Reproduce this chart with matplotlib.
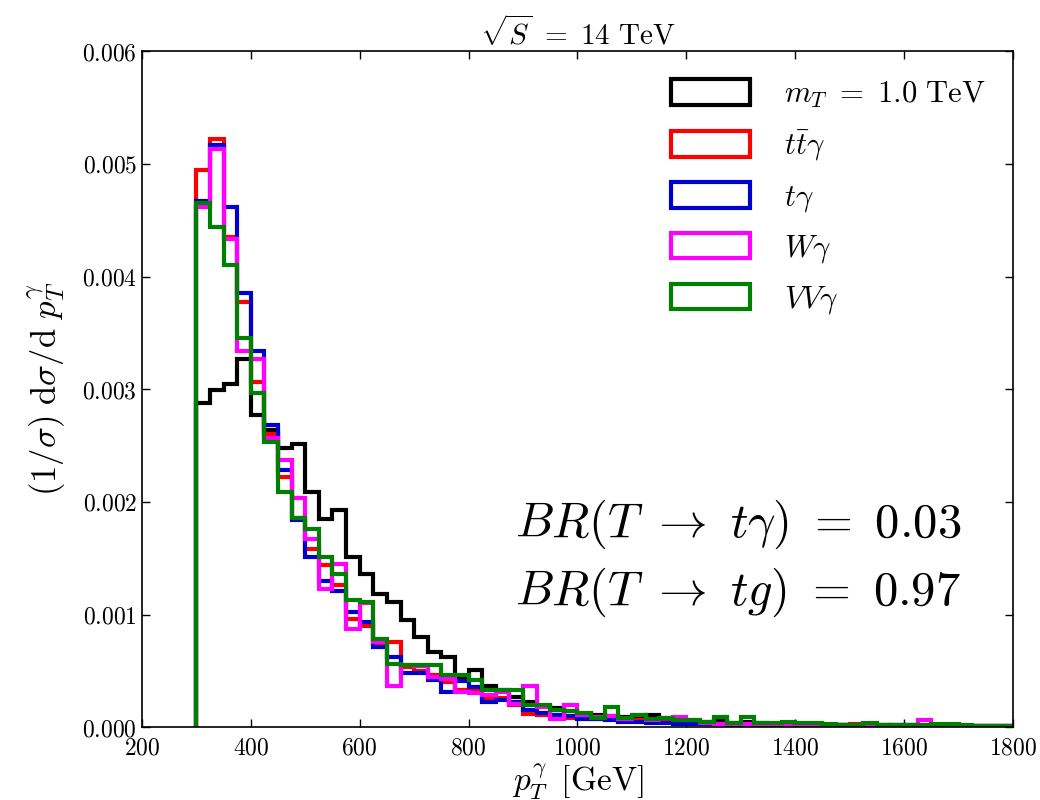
import numpy as np
import matplotlib
matplotlib.use('Agg')
import matplotlib.pyplot as plt
from matplotlib.ticker import FuncFormatter, MultipleLocator

plt.rcParams['mathtext.fontset'] = 'cm'
plt.rcParams['font.family'] = 'DejaVu Serif'
plt.rcParams['xtick.direction'] = 'in'
plt.rcParams['ytick.direction'] = 'in'
plt.rcParams['xtick.top'] = True
plt.rcParams['ytick.right'] = True

# 25 GeV bins from 300 to 1800 GeV
bin_edges = np.arange(300, 1801, 25)

signal = [0.00288, 0.00299, 0.00305, 0.00327, 0.00277, 0.00264, 0.00248, 0.00251, 0.00209, 0.00185,
          0.00193, 0.00151, 0.00136, 0.00118, 0.00111, 0.00095, 0.00080, 0.00067, 0.00062, 0.00045,
          0.00051, 0.00037, 0.00033, 0.00027, 0.00022, 0.00019, 0.00017, 0.00014, 0.00012, 0.00011,
          0.00010, 0.00009, 0.00010, 0.00011, 0.00007, 0.00006, 0.00005, 0.00005, 0.00006, 0.00004,
          0.00005, 0.00004, 0.00003, 0.00003, 0.00003, 0.00002, 0.00002, 0.00002, 0.00002, 0.00002,
          0.00002, 0.00001, 0.00002, 0.00001, 0.00001, 0.00001, 0.00001, 0.00001, 0.00001, 0.00001]

ttgamma = [0.00495, 0.00522, 0.00435, 0.00377, 0.00306, 0.00260, 0.00222, 0.00186, 0.00158, 0.00144,
           0.00126, 0.00096, 0.00090, 0.00074, 0.00076, 0.00053, 0.00050, 0.00046, 0.00040, 0.00033,
           0.00033, 0.00026, 0.00026, 0.00020, 0.00012, 0.00011, 0.00011, 0.00008, 0.00009, 0.00007,
           0.00007, 0.00006, 0.00006, 0.00005, 0.00005, 0.00004, 0.00004, 0.00003, 0.00003, 0.00003,
           0.00003, 0.00002, 0.00002, 0.00002, 0.00002, 0.00002, 0.00002, 0.00002, 0.00003, 0.00002,
           0.00001, 0.00001, 0.00001, 0.00001, 0.00001, 0.00001, 0.00001, 0.00001, 0.00001, 0.00001]

tgamma = [0.00467, 0.00517, 0.00462, 0.00385, 0.00334, 0.00268, 0.00228, 0.00184, 0.00151, 0.00130,
          0.00121, 0.00102, 0.00093, 0.00071, 0.00062, 0.00048, 0.00048, 0.00042, 0.00031, 0.00041,
          0.00036, 0.00022, 0.00024, 0.00022, 0.00015, 0.00013, 0.00011, 0.00010, 0.00007, 0.00007,
          0.00006, 0.00005, 0.00005, 0.00004, 0.00004, 0.00003, 0.00003, 0.00003, 0.00003, 0.00002,
          0.00002, 0.00002, 0.00002, 0.00002, 0.00002, 0.00002, 0.00002, 0.00002, 0.00002, 0.00002,
          0.00001, 0.00002, 0.00001, 0.00001, 0.00001, 0.00001, 0.00001, 0.00001, 0.00001, 0.00001]

wgamma = [0.00462, 0.00513, 0.00433, 0.00334, 0.00327, 0.00257, 0.00237, 0.00203, 0.00167, 0.00123,
          0.00145, 0.00087, 0.00110, 0.00076, 0.00037, 0.00055, 0.00054, 0.00045, 0.00043, 0.00031,
          0.00030, 0.00029, 0.00031, 0.00021, 0.00037, 0.00018, 0.00007, 0.00020, 0.00011, 0.00009,
          0.00010, 0.00007, 0.00011, 0.00006, 0.00008, 0.00009, 0.00006, 0.00004, 0.00003, 0.00003,
          0.00003, 0.00002, 0.00003, 0.00002, 0.00002, 0.00002, 0.00002, 0.00002, 0.00002, 0.00002,
          0.00002, 0.00002, 0.00002, 0.00006, 0.00002, 0.00001, 0.00001, 0.00001, 0.00001, 0.00001]

vvgamma = [0.00465, 0.00444, 0.00410, 0.00345, 0.00297, 0.00253, 0.00209, 0.00186, 0.00176, 0.00151,
           0.00136, 0.00113, 0.00111, 0.00078, 0.00056, 0.00055, 0.00055, 0.00055, 0.00046, 0.00046,
           0.00042, 0.00033, 0.00033, 0.00033, 0.00020, 0.00020, 0.00015, 0.00014, 0.00013, 0.00008,
           0.00018, 0.00008, 0.00011, 0.00007, 0.00008, 0.00006, 0.00006, 0.00005, 0.00009, 0.00004,
           0.00009, 0.00004, 0.00004, 0.00005, 0.00004, 0.00004, 0.00003, 0.00002, 0.00002, 0.00004,
           0.00002, 0.00002, 0.00002, 0.00002, 0.00003, 0.00003, 0.00002, 0.00001, 0.00001, 0.00001]

series = [signal, ttgamma, tgamma, wgamma, vvgamma]
labels = [r'$m_T\ =\ 1.0\ \mathrm{TeV}$', r'$t\bar{t}\gamma$', r'$t\gamma$', r'$W\gamma$', r'$VV\gamma$']
colors = ['black', 'red', '#0000cc', 'magenta', 'green']

fig = plt.figure(figsize=(10.4, 8), dpi=100)
ax = fig.add_axes([0.1365, 0.091, 0.8375, 0.845])

centers = bin_edges[:-1] + 12.5
for vals, lab, col in zip(series, labels, colors):
    ax.hist(centers, bins=bin_edges, weights=vals, histtype='step',
            color=col, linewidth=3, label=lab)

ax.set_xlim(200, 1800)
ax.set_ylim(0, 0.006)
ax.xaxis.set_major_locator(MultipleLocator(200))
ax.yaxis.set_major_locator(MultipleLocator(0.001))
ax.xaxis.set_major_formatter(FuncFormatter(lambda v, p: r'$%d$' % v))
ax.yaxis.set_major_formatter(FuncFormatter(lambda v, p: r'$%.3f$' % v))
ax.tick_params(labelsize=17, length=6, width=1)
ax.tick_params(axis='x', pad=7)
for s in ax.spines.values():
    s.set_linewidth(1.2)

ax.set_xlabel(r'$p_T^{\gamma}\ \,[\mathrm{GeV}]$', fontsize=24, labelpad=1)
ax.set_ylabel(r'$(1/\sigma)\ \mathrm{d}\sigma/\mathrm{d}\ p_T^{\gamma}$', fontsize=25, labelpad=10)
ax.set_title(r'$\sqrt{S}\ =\ 14\ \mathrm{TeV}$', fontsize=21, pad=3)

ax.legend(loc='upper right', frameon=False, fontsize=22, handlelength=2.6,
          handleheight=0.9, labelspacing=0.6, handletextpad=1.1,
          borderaxespad=0.5)

ax.text(0.428, 0.30, r'$BR(T\ \rightarrow\ t\gamma)\ =\ 0.03$', transform=ax.transAxes,
        fontsize=35, va='center', ha='left')
ax.text(0.428, 0.20, r'$BR(T\ \rightarrow\ tg)\ =\ 0.97$', transform=ax.transAxes,
        fontsize=35, va='center', ha='left')

fig.savefig('out.png', dpi=100)
